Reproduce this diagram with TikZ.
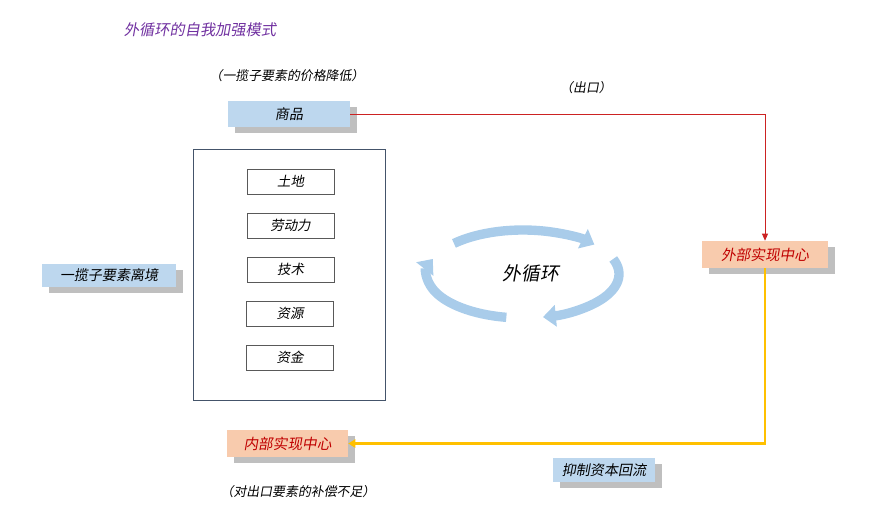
\documentclass[tikz,border=0pt]{standalone}
\usepackage{fontspec}
\setmainfont{Noto Sans CJK SC}[FakeSlant=0.18]
\usetikzlibrary{arrows.meta,shadows,positioning}
\definecolor{boxblue}{HTML}{BDD7EE}
\definecolor{boxpeach}{HTML}{F8CBAD}
\definecolor{darkred}{HTML}{C00000}
\definecolor{linered}{HTML}{CC2222}
\definecolor{titlepurple}{HTML}{7030A0}
\definecolor{flowyellow}{HTML}{FFC000}
\definecolor{loopblue}{HTML}{A9CCEA}
\definecolor{frameslate}{HTML}{44546A}
\tikzset
{
    shade/.style     = {drop shadow={shadow xshift=6pt, shadow yshift=-5.5pt, fill=black!50, opacity=0.5}},
    bluenode/.style  = {rectangle, fill=boxblue, align=center, shade, font=\fontsize{12}{14}\selectfont},
    centrenode/.style = {rectangle, fill=boxpeach, text=darkred, align=center, shade, minimum height=0.81cm, font=\fontsize{12.5}{14}\selectfont},
    itemnode/.style  = {rectangle, draw=black!65, fill=white, align=center, minimum width=2.61cm, minimum height=0.75cm, font=\fontsize{11.5}{14}\selectfont},
    notetext/.style  = {align=center, font=\fontsize{11}{13}\selectfont},
    loopflow/.style  = {draw=loopblue, line width=8pt, -{Triangle[width=18pt, length=11pt]}}
}

\begin{document}
\begin{tikzpicture}[x=0.03cm, y=-0.03cm]
\useasboundingbox (0,0) rectangle (870,524);
% title and notes
\node[notetext, text=titlepurple, font=\fontsize{13}{15}\selectfont] (title) at (200,30) {外循环的自我加强模式};
\node[notetext] (pricenote) at (287,76) {（一揽子要素的价格降低）};
\node[notetext] (exportnote) at (586,88) {（出口）};
\node[notetext] (compnote) at (298,492) {（对出口要素的补偿不足）};
% boxes
\node[bluenode, minimum width=3.66cm, minimum height=0.78cm] (goods) at (289,114) {商品};
\node[bluenode, minimum width=4.02cm, minimum height=0.69cm] (leave) at (109,275.5) {一揽子要素离境};
\node[bluenode, minimum width=3.06cm, minimum height=0.72cm] (curb) at (604,470) {抑制资本回流};
\node[centrenode, minimum width=3.78cm] (outer) at (765,254.5) {外部实现中心};
\node[centrenode, minimum width=3.63cm] (inner) at (287.5,443.5) {内部实现中心};
% factor frame
\node[rectangle, draw=frameslate, line width=0.7pt, minimum width=5.76cm, minimum height=7.53cm] (frame) at (289,274.5) {};
\node[itemnode] (land) at (290.5,181.5) {土地};
\node[itemnode] (labour) at (290.5,225.5) {劳动力};
\node[itemnode] (tech) at (290.5,269.5) {技术};
\node[itemnode] (resource) at (290,313.5) {资源};
\node[itemnode] (fund) at (290,357.5) {资金};
% connectors
\draw[linered, line width=0.8pt, -{Triangle[width=5pt, length=6pt]}] (goods.east) -| (outer.north);
\draw[flowyellow, line width=1.8pt, -{Triangle[width=7pt, length=6pt]}] (outer.south) |- (inner.east);
% the loop
\coordinate (loopc) at (523,274);
\node[font=\fontsize{16}{18}\selectfont] (loop) at (531,273) {外循环};
\draw[loopflow] (loopc) ++(224:96 and 44) arc[start angle=224, end angle=318, x radius=96, y radius=44];
\draw[loopflow] (loopc) ++(340:96 and 44) arc[start angle=340, end angle=438, x radius=96, y radius=44];
\draw[loopflow] (loopc) ++(100:96 and 44) arc[start angle=100, end angle=200, x radius=96, y radius=44];
\end{tikzpicture}
\end{document}
